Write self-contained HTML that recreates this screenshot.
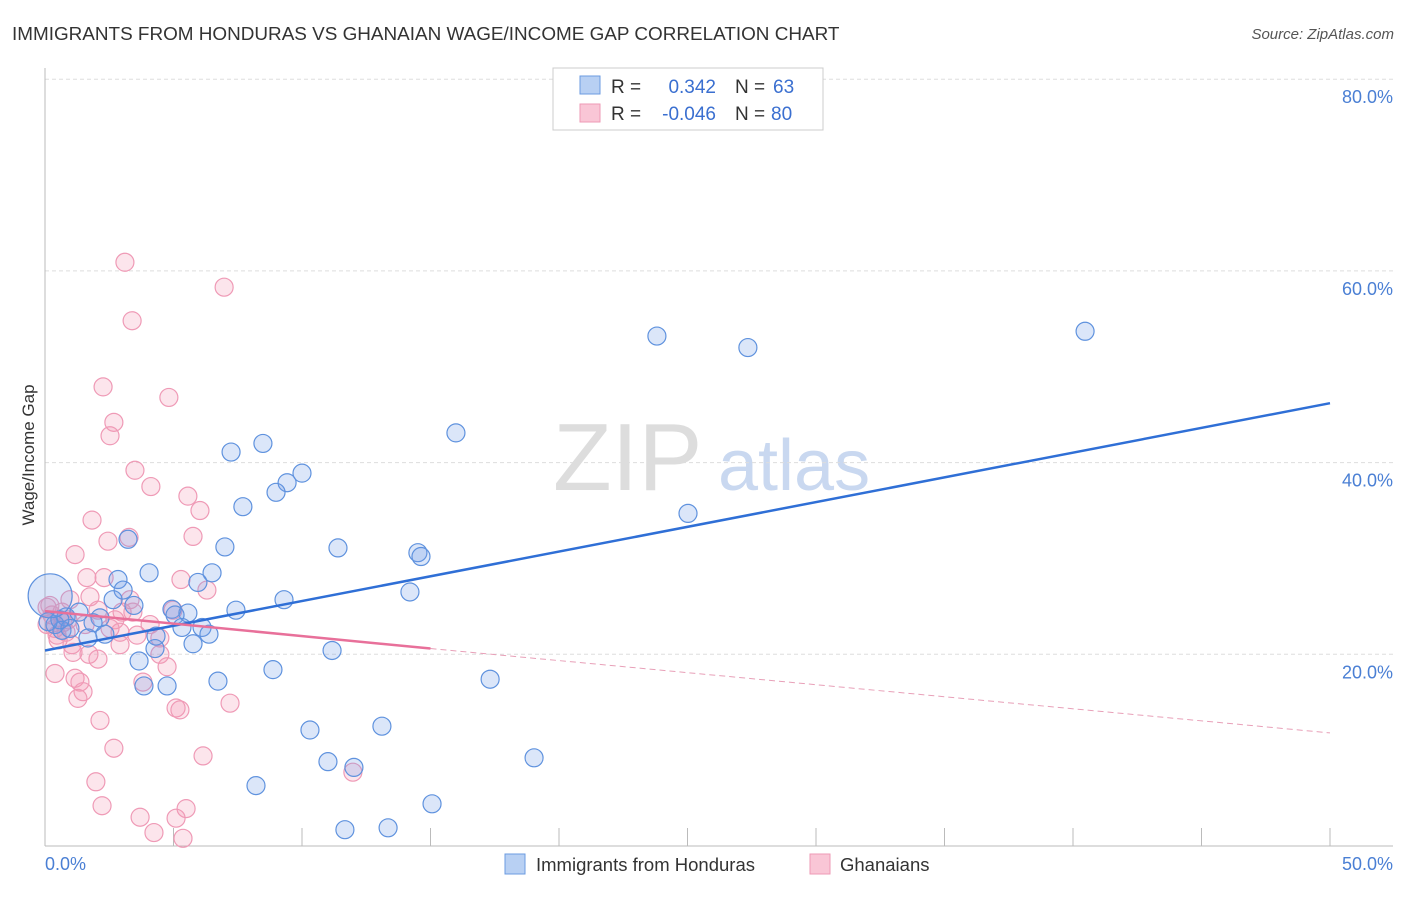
<!DOCTYPE html>
<html><head><meta charset="utf-8"><style>
body{margin:0;background:#fff;font-family:"Liberation Sans",sans-serif}
svg text{font-family:"Liberation Sans",sans-serif}
</style></head><body>
<svg width="1406" height="892" xmlns="http://www.w3.org/2000/svg">
<text x="12" y="40" font-size="18.9" fill="#333">IMMIGRANTS FROM HONDURAS VS GHANAIAN WAGE/INCOME GAP CORRELATION CHART</text>
<text x="1394" y="39" font-size="15" fill="#555" font-style="italic" text-anchor="end">Source: ZipAtlas.com</text>
<g>
<text x="553" y="490" font-size="96" font-family="Liberation Serif" fill="#ddd">ZIP</text>
<text x="718" y="490" font-size="72" fill="#c9d8f0">atlas</text>
</g>
<g id="grid"></g>
<line x1="45" y1="68" x2="45" y2="846" stroke="#bbb"/>
<line x1="45" y1="846" x2="1393" y2="846" stroke="#bbb"/>
<g id="ticks"></g>
<text x="34" y="455" font-size="17" fill="#333" transform="rotate(-90 34 455)" text-anchor="middle">Wage/Income Gap</text>
<text x="45" y="870" font-size="18" fill="#4a7fd4">0.0%</text>
<text x="1393" y="870" font-size="18" fill="#4a7fd4" text-anchor="end">50.0%</text>
<g id="pink"></g><g id="blue"></g><g id="lines"></g>
<g>
<rect x="553" y="68" width="270" height="62" fill="#fff" stroke="#ccc"/>
<rect x="580" y="76" width="20" height="18" fill="#b8d0f3" stroke="#6b9be0"/>
<rect x="580" y="104" width="20" height="18" fill="#f9c6d6" stroke="#ee9ab5"/>
<text x="611" y="93" font-size="19" fill="#333">R =</text>
<text x="716" y="93" font-size="19" fill="#3a6fd0" text-anchor="end">0.342</text>
<text x="735" y="93" font-size="19" fill="#333">N =</text>
<text x="773" y="93" font-size="19" fill="#3a6fd0">63</text>
<text x="611" y="120" font-size="19" fill="#333">R =</text>
<text x="716" y="120" font-size="19" fill="#3a6fd0" text-anchor="end">-0.046</text>
<text x="735" y="120" font-size="19" fill="#333">N =</text>
<text x="771" y="120" font-size="19" fill="#3a6fd0">80</text>
</g>
<g>
<rect x="505" y="854" width="20" height="20" fill="#b8d0f3" stroke="#6b9be0"/>
<text x="536" y="871" font-size="18.5" fill="#333">Immigrants from Honduras</text>
<rect x="810" y="854" width="20" height="20" fill="#f9c6d6" stroke="#ee9ab5"/>
<text x="840" y="871" font-size="18.5" fill="#333">Ghanaians</text>
</g>
</svg>
<script>
const yTicks=[20,40,60,80];
const xTicks=[0,5,10,15,20,25,30,35,40,45,50];
const blueX=[23.81,27.35,40.47,15.99,8.48,7.24,10.0,9.42,8.99,7.7,25.02,3.23,7.0,11.4,14.51,14.63,4.05,6.5,2.84,5.95,3.04,14.2,9.3,2.65,3.46,7.43,4.94,5.56,0.82,1.32,2.14,5.06,1.87,5.33,6.11,6.38,2.33,1.67,4.32,5.76,4.28,11.17,3.66,4.75,3.85,6.73,8.87,17.32,10.31,13.11,11.01,12.02,19.03,8.21,15.06,11.67,13.35,0.39,0.66,0.97,0.12,0.58,0.2];
const blueY=[53.2,52.0,53.7,43.1,42.0,41.1,38.9,37.9,36.9,35.4,34.7,32.0,31.2,31.1,30.6,30.2,28.5,28.5,27.8,27.5,26.7,26.5,25.7,25.7,25.1,24.6,24.7,24.3,23.9,24.4,23.8,24.1,23.3,22.8,22.8,22.1,22.1,21.7,21.9,21.1,20.6,20.4,19.3,16.7,16.7,17.2,18.4,17.4,12.1,12.5,8.8,8.2,9.2,6.3,4.4,1.7,1.9,23.1,22.5,22.7,23.4,23.6,26.1];
const pinkX=[3.11,6.97,3.39,2.26,4.82,2.68,2.53,3.5,4.12,5.56,6.03,1.83,3.27,5.76,2.45,1.17,1.63,2.3,5.29,6.3,1.75,0.97,3.31,2.06,3.0,3.42,4.98,0.19,0.27,0.66,2.72,1.56,0.82,2.92,3.58,4.47,0.51,1.05,2.92,1.09,1.71,2.06,4.47,4.75,0.39,1.17,1.36,1.48,1.28,3.81,5.1,5.25,7.2,2.14,2.68,6.15,11.98,1.98,2.22,5.49,3.7,5.1,4.24,5.37,0.08,0.08,0.39,0.7,0.47,0.89,4.09,2.53];
const pinkY=[60.9,58.3,54.8,47.9,46.8,44.2,42.8,39.2,37.5,36.5,35.0,34.0,32.2,32.3,31.8,30.4,28.0,28.0,27.8,26.7,26.0,25.7,25.7,24.6,24.4,24.4,24.6,25.1,24.1,24.4,23.6,23.1,22.3,22.3,22.0,21.7,21.5,21.0,21.0,20.2,20.0,19.5,20.0,18.7,18.0,17.5,17.1,16.1,15.4,17.1,14.4,14.2,14.9,13.1,10.2,9.4,7.7,6.7,4.2,3.9,3.0,2.9,1.4,0.8,24.9,23.1,22.7,23.3,22.0,23.6,23.1,22.7];
const blueLine=[20.4,46.2];
const pinkLine=[24.5,20.6,11.8];
const pinkSolidEnd=15;
const NS='http://www.w3.org/2000/svg';
const sx=v=>45+v*25.7, sy=v=>846-v*9.585;
function mk(t,a,p){const e=document.createElementNS(NS,t);for(const k in a)e.setAttribute(k,a[k]);document.getElementById(p).appendChild(e);return e;}
yTicks.forEach(t=>{
 const l=mk('line',{x1:45,x2:1393,y1:sy(t),y2:sy(t),stroke:'#ddd','stroke-dasharray':'4 3'},'grid');
 
 
 const tx=mk('text',{x:1393,y:sy(t)+24,'font-size':18,fill:'#4a7fd4','text-anchor':'end'},'grid');
 tx.textContent=t.toFixed(1)+'%';
 
 
});
xTicks.forEach(t=>{
 const l=mk('line',{x1:sx(t),x2:sx(t),y1:828,y2:846,stroke:'#bbb'},'ticks');
 
 
});
pinkX.forEach((x,i)=>{
 const c=mk('circle',{cx:sx(x),cy:sy(pinkY[i]),r:9,fill:'rgba(242,150,180,0.25)',stroke:'#ef9ab6','stroke-width':1.2},'pink');
 
 
});
blueX.forEach((x,i)=>{
 const big=i===blueX.length-1;
 const c=mk('circle',{cx:sx(x),cy:sy(blueY[i]),r:big?22:9,fill:'rgba(110,155,230,0.25)',stroke:'#5f92de','stroke-width':1.2},'blue');
 
 
});
let l=mk('line',{x1:sx(0),y1:sy(blueLine[0]),x2:sx(50),y2:sy(blueLine[1]),stroke:'#2f6fd6','stroke-width':2.5},'lines');


l=mk('line',{x1:sx(0),y1:sy(pinkLine[0]),x2:sx(pinkSolidEnd),y2:sy(pinkLine[1]),stroke:'#e8709a','stroke-width':2.5},'lines');


l=mk('line',{x1:sx(pinkSolidEnd),y1:sy(pinkLine[1]),x2:sx(50),y2:sy(pinkLine[2]),stroke:'#e8a0b8','stroke-width':1,'stroke-dasharray':'6 4'},'lines');


</script>
</body></html>
